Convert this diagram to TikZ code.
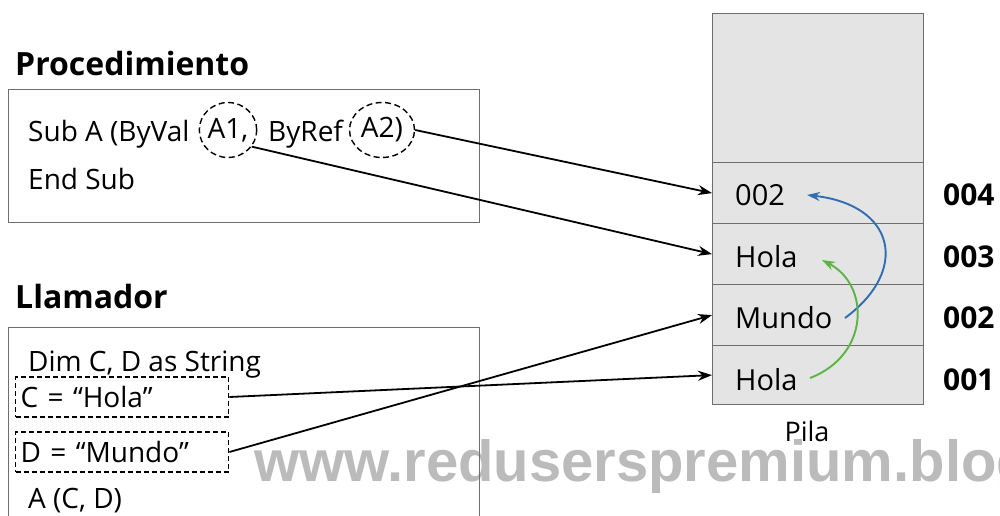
\documentclass[tikz,border=0pt]{standalone}
\usepackage{fontspec}
\setmainfont{Open Sans}
\newfontfamily\wmfont{Liberation Sans}
\usetikzlibrary{shapes.geometric,arrows.meta}
\definecolor{cellgray}{HTML}{E4E4E4}
\definecolor{boxline}{HTML}{6E6E6E}
\definecolor{arrblue}{HTML}{2F6DB5}
\definecolor{arrgreen}{HTML}{5CB346}
\definecolor{wmgray}{HTML}{BBBBBB}
\tikzset{
  bodytxt/.style={anchor=base west, inner sep=0pt, font=\fontsize{28}{33}\selectfont},
  titletxt/.style={anchor=base west, inner sep=0pt, font=\fontsize{32}{37}\selectfont\bfseries},
  celltxt/.style={anchor=base west, inner sep=0pt, font=\fontsize{29}{34}\selectfont},
  addrtxt/.style={anchor=base west, inner sep=0pt, font=\fontsize{30}{35}\selectfont\bfseries},
  codebox/.style={draw=boxline, line width=1pt},
  cellbox/.style={draw=boxline, fill=cellgray, line width=1.2pt, anchor=north west, minimum width=211pt, inner sep=0pt},
  dashbox/.style={draw, dashed, line width=1.4pt, dash pattern=on 5pt off 3pt, anchor=west, text width=203pt, inner xsep=5pt, minimum height=40pt, font=\fontsize{28}{33}\selectfont},
  dashell/.style={draw, ellipse, line width=1.4pt, dash pattern=on 6pt off 3.5pt, inner sep=0pt, minimum height=55pt, font=\fontsize{28}{33}\selectfont},
  link/.style={line width=1.8pt, -{Stealth[length=14pt,width=10pt]}},
  curvearr/.style={line width=1.9pt, -{Stealth[length=13pt,width=9pt]}}
}
\begin{document}
\begin{tikzpicture}[x=1pt,y=-1pt]
\clip (0,0) rectangle (1000,516);
\fill[white] (0,0) rectangle (1000,516);
% watermark
\node[anchor=base west, inner sep=0pt, text=wmgray, font=\wmfont\fontsize{58}{60}\selectfont\bfseries] (wm) at (254,481) {www.reduserspremium.blog};
% Procedimiento
\node[titletxt] (tproc) at (15,76) {Procedimiento};
\draw[codebox] (8,90) rectangle (479,222);
\node[bodytxt] (sub) at (28,141) {Sub A (ByVal};
\node[dashell, minimum width=53pt] (e1) at (228,130) {A1,};
\node[bodytxt] (byref) at (268,141) {ByRef};
\node[dashell, minimum width=65pt] (e2) at (382,130) {A2)};
\node[bodytxt] (endsub) at (28,189) {End Sub};
% Llamador
\node[titletxt] (tllam) at (15,308) {Llamador};
\draw[codebox] (8,600) -- (8,327) -- (479,327) -- (479,600);
\node[bodytxt] (dim) at (28,371) {Dim C, D as String};
\node[dashbox] (C) at (15,397) {C = “Hola”};
\node[dashbox] (D) at (15,452) {D = “Mundo”};
\node[bodytxt] (call) at (28,508) {A (C, D)};
% Pila
\node[cellbox, minimum height=149pt] (ctop) at (712,13) {};
\node[cellbox, minimum height=61pt] (c4) at (712,162) {};
\node[cellbox, minimum height=61pt] (c3) at (712,223) {};
\node[cellbox, minimum height=61pt] (c2) at (712,284) {};
\node[cellbox, minimum height=59pt] (c1) at (712,345) {};
\node[celltxt] (v4) at (735,205) {002};
\node[celltxt] (v3) at (735,267) {Hola};
\node[celltxt] (v2) at (735,328) {Mundo};
\node[celltxt] (v1) at (735,390) {Hola};
\node[addrtxt] (a4) at (943,205) {004};
\node[addrtxt] (a3) at (943,267) {003};
\node[addrtxt] (a2) at (943,328) {002};
\node[addrtxt] (a1) at (943,390) {001};
\node[anchor=base, inner sep=0pt, font=\fontsize{27}{32}\selectfont] (pila) at (807,441) {Pila};
% connectors
\draw[link] (e2.east) -- (c4.west);
\draw[link] (e1.-35) -- (c3.west);
\draw[link] (C.east) -- (c1.west);
\draw[link] (D.east) -- (c2.west);
\coordinate (bs) at (845,318);
\coordinate (be) at (807,195);
\coordinate (gs) at (810,378);
\coordinate (ge) at (822,260);
\draw[curvearr, arrblue] (bs) .. controls (910,270) and (895,205) .. (be);
\draw[curvearr, arrgreen] (gs) .. controls (870,355) and (870,285) .. (ge);
\end{tikzpicture}
\end{document}
